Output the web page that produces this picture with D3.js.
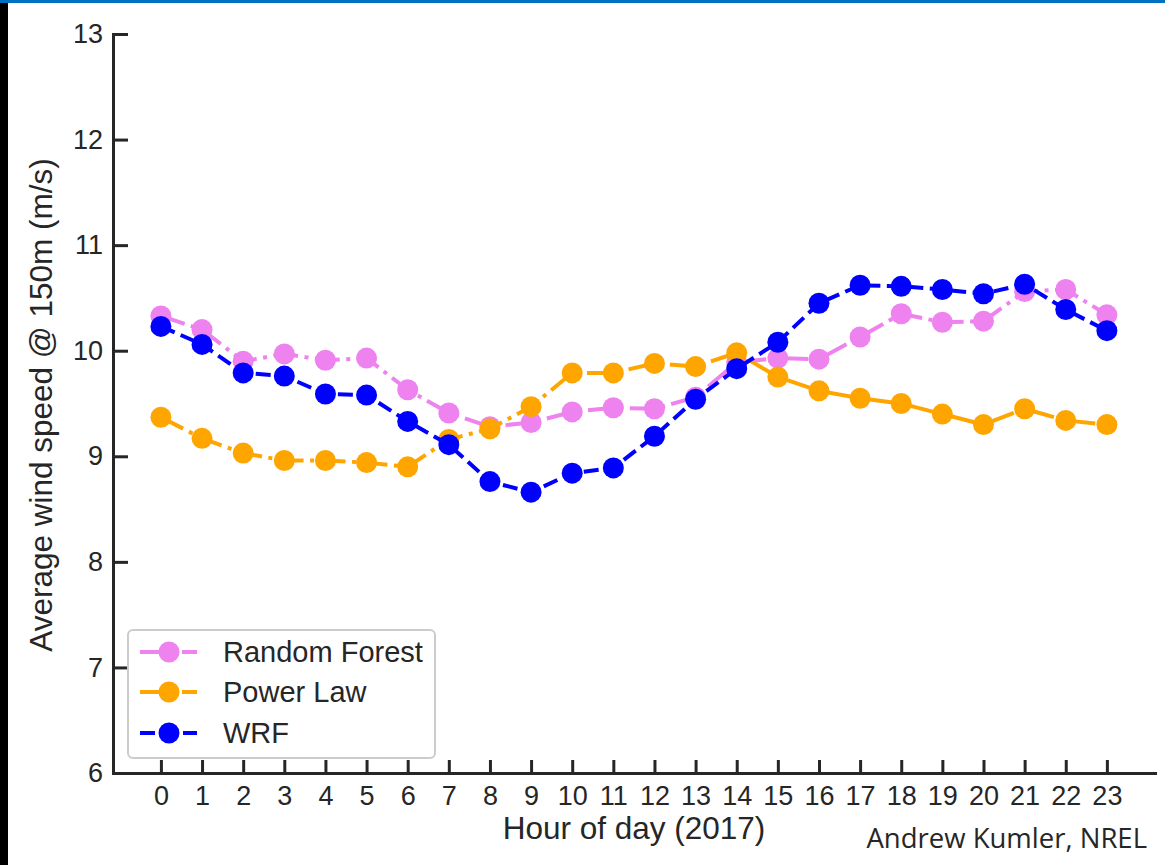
<!DOCTYPE html>
<html lang="en">
<head>
    <meta charset="UTF-8">
    <title>Average wind speed @ 150m by hour of day</title>
    <script src="https://d3js.org/d3.v7.min.js"></script>
    <style>
        html, body { margin: 0; padding: 0; background: #fff; }
        svg { display: block; }
        .axis path, .axis line { stroke: #262626; stroke-width: 3; }
        .axis text { font-family: "Liberation Sans", Arial, sans-serif; font-size: 27px; fill: #262626; }
        .label { font-family: "Liberation Sans", Arial, sans-serif; font-size: 31.5px; fill: #262626; }
        .legend text { font-family: "Liberation Sans", Arial, sans-serif; font-size: 29px; fill: #262626; }
        .credit { font-family: "Open Sans", sans-serif; font-size: 27.5px; fill: #262626; }
    </style>
</head>
<body>
<svg width="1165" height="865"></svg>
<script>
    // Data
    const hours = [0, 1, 2, 3, 4, 5, 6, 7, 8, 9, 10, 11, 12, 13, 14, 15, 16, 17, 18, 19, 20, 21, 22, 23];
    const randomForest = [10.33, 10.20, 9.90, 9.97, 9.91, 9.93, 9.63, 9.41, 9.28, 9.32, 9.42, 9.46,
                          9.45, 9.56, 9.89, 9.93, 9.92, 10.13, 10.35, 10.27, 10.28, 10.56, 10.58, 10.34];
    const powerLaw = [9.37, 9.17, 9.03, 8.96, 8.96, 8.94, 8.90, 9.16, 9.26, 9.47, 9.79, 9.79,
                      9.88, 9.85, 9.98, 9.75, 9.62, 9.55, 9.50, 9.40, 9.30, 9.45, 9.34, 9.30];
    const wrf = [10.23, 10.06, 9.79, 9.76, 9.59, 9.58, 9.33, 9.11, 8.76, 8.66, 8.84, 8.89,
                 9.19, 9.54, 9.83, 10.08, 10.45, 10.62, 10.61, 10.58, 10.54, 10.63, 10.39, 10.19];
    const yTicks = [6, 7, 8, 9, 10, 11, 12, 13];

    const series = [
        { name: "Random Forest", values: randomForest, color: "#ee82ee", dash: "25,6.5,4,6.5" },
        { name: "Power Law", values: powerLaw, color: "#ffa500", dash: "25,6.5,4,6.5" },
        { name: "WRF", values: wrf, color: "#0000ff", dash: "15,6.5" }
    ];

    const svg = d3.select("svg");

    // slide frame: blue strip on top, black strip on the left
    svg.append("rect").attr("x", 0).attr("y", 3).attr("width", 8).attr("height", 862).attr("fill", "#000");
    svg.append("rect").attr("x", 0).attr("y", 0).attr("width", 1165).attr("height", 3).attr("fill", "#0070c0");

    const x = d3.scaleLinear().domain([-1.165, 24.17]).range([113, 1155]);
    const y = d3.scaleLinear().domain([6, 13]).range([773, 34]);

    // axes, ticks pointing inward
    svg.append("g")
        .attr("class", "axis")
        .attr("transform", "translate(0,773)")
        .call(d3.axisBottom(x).tickValues(hours).tickFormat(d3.format("d"))
            .tickSizeInner(-13).tickSizeOuter(0).tickPadding(13))
        .call(g => g.selectAll("path").attr("stroke-linecap", "square"));

    svg.append("g")
        .attr("class", "axis")
        .attr("transform", "translate(113,0)")
        .call(d3.axisLeft(y).tickValues(yTicks).tickFormat(d3.format("d"))
            .tickSizeInner(-15).tickSizeOuter(0).tickPadding(10))
        .call(g => g.selectAll("path").attr("stroke-linecap", "square"));

    // axis titles
    svg.append("text")
        .attr("class", "label")
        .attr("x", 634)
        .attr("y", 839)
        .attr("text-anchor", "middle")
        .text("Hour of day (2017)");

    svg.append("text")
        .attr("class", "label")
        .attr("transform", "translate(52,405) rotate(-90)")
        .attr("text-anchor", "middle")
        .text("Average wind speed @ 150m (m/s)");

    svg.append("text")
        .attr("class", "credit")
        .attr("x", 1147)
        .attr("y", 848)
        .attr("text-anchor", "end")
        .text("Andrew Kumler, NREL");

    // lines then markers, series by series
    const line = d3.line()
        .x((d, i) => x(hours[i]))
        .y(d => y(d));

    series.forEach(s => {
        const g = svg.append("g");
        g.append("path")
            .datum(s.values)
            .attr("fill", "none")
            .attr("stroke", s.color)
            .attr("stroke-width", 4)
            .attr("stroke-dasharray", s.dash)
            .attr("d", line);
        g.selectAll("circle")
            .data(s.values)
            .join("circle")
            .attr("cx", (d, i) => x(hours[i]))
            .attr("cy", d => y(d))
            .attr("r", 10.5)
            .attr("fill", s.color);
    });

    // legend
    const legend = svg.append("g").attr("class", "legend");
    legend.append("rect")
        .attr("x", 128).attr("y", 630)
        .attr("width", 307).attr("height", 128)
        .attr("rx", 5)
        .attr("fill", "#fff").attr("fill-opacity", 0.8)
        .attr("stroke", "#cccccc").attr("stroke-width", 2);

    const rowY = [652, 692, 733];
    series.forEach((s, i) => {
        const row = legend.append("g").attr("transform", `translate(0,${rowY[i]})`);
        row.append("line")
            .attr("x1", 140).attr("x2", 197)
            .attr("stroke", s.color).attr("stroke-width", 4)
            .attr("stroke-dasharray", s.dash);
        row.append("circle").attr("cx", 169).attr("r", 10.5).attr("fill", s.color);
        row.append("text").attr("x", 223).attr("y", 10).text(s.name);
    });
</script>
</body>
</html>
